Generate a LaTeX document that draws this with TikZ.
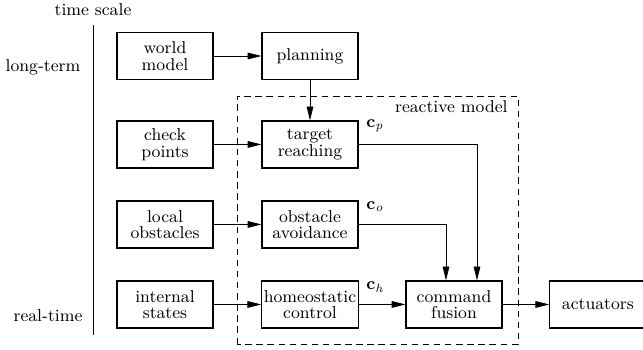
\documentclass[tikz,border=0pt]{standalone}
\usetikzlibrary{arrows.meta}

\tikzset{
  block/.style={draw, line width=0.6pt, minimum width=1.824cm, minimum height=0.893cm,
    align=center, inner sep=1pt, font=\fontsize{9.3}{9}\selectfont},
  link/.style={line width=0.5pt, -{Triangle[length=7.5pt,width=3.6pt]}},
  tag/.style={font=\fontsize{9.3}{11}\selectfont, inner sep=0pt},
}
\newcommand{\cvec}[1]{\textbf{c}\textsubscript{\textit{#1}}}

\begin{document}
\begin{tikzpicture}
\useasboundingbox (0,0) rectangle (12.217,6.65);

% time axis
\node[tag] (ts) at (1.767,6.46) {time scale};
\node[tag] (lt) at (0.817,5.377) {long-term};
\node[tag] (rt) at (0.912,0.646) {real-time};
\coordinate (axtop) at (1.767,6.175);
\coordinate (axbot) at (1.767,0.285);
\draw[line width=0.5pt] (axtop) -- (axbot);

% reactive model frame
\coordinate (rmSW) at (4.503,0.114);
\coordinate (rmNE) at (9.842,4.826);
\draw[line width=0.5pt, dash pattern=on 3.5pt off 2.5pt] (rmSW) rectangle (rmNE);
\node[tag, anchor=east] (rm) at (9.652,4.617) {reactive model};

% blocks
\node[block] (wm) at (3.135,5.586) {world\\model};
\node[block] (pl) at (5.890,5.586) {planning};
\node[block] (cp) at (3.135,3.905) {check\\points};
\node[block] (tr) at (5.890,3.905) {target\\reaching};
\node[block] (lo) at (3.135,2.385) {local\\obstacles};
\node[block] (oa) at (5.890,2.385) {obstacle\\avoidance};
\node[block] (is) at (3.135,0.865) {internal\\states};
\node[block] (hc) at (5.890,0.865) {homeostatic\\control};
\node[block] (cf) at (8.626,0.865) {command\\fusion};
\node[block] (ac) at (11.360,0.865) {actuators};

% command labels
\node[tag, anchor=west] (lp) at (6.954,4.256) {\cvec{p}};
\node[tag, anchor=west] (lo2) at (6.954,2.717) {\cvec{o}};
\node[tag, anchor=west] (lh) at (6.954,1.197) {\cvec{h}};

% connectors
\draw[link] (wm) -- (pl);
\draw[link] (pl) -- (tr);
\draw[link] (cp) -- (tr);
\draw[link] (lo) -- (oa);
\draw[link] (is) -- (hc);
\draw[link] (hc) -- (cf);
\draw[link] (cf) -- (ac);
\draw[link] (tr.east) -| ([xshift=0.437cm]cf.north);
\draw[link] (oa.east) -| ([xshift=-0.152cm]cf.north);

\end{tikzpicture}
\end{document}
